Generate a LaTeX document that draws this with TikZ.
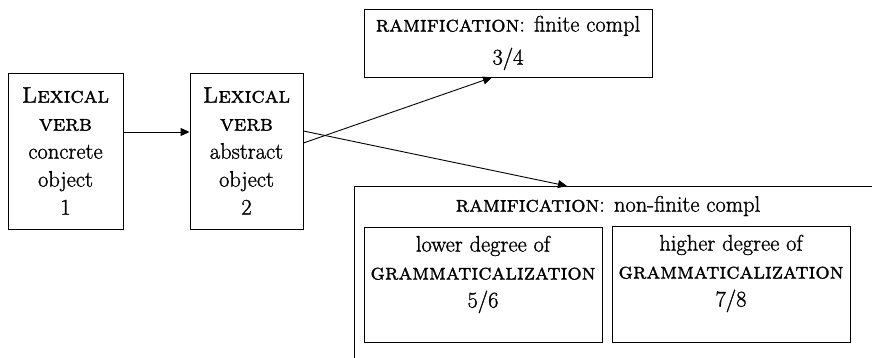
\documentclass[tikz,border=0pt]{standalone}
\usepackage{fontspec}
\setmainfont{Latin Modern Roman}[
  FakeBold=1.2,
  SmallCapsFont={Latin Modern Roman Caps},
  SmallCapsFeatures={FakeBold=1.2}]
\usetikzlibrary{arrows.meta}
\begin{document}
\begin{tikzpicture}[x=1pt,y=-1pt,
  txt/.style={inner sep=0pt, align=center, font=\fontsize{22.5}{28}\selectfont},
  box/.style={txt, draw, line width=0.9pt},
  arr/.style={-{Triangle[length=9pt,width=8pt]}, line width=0.9pt}]
\useasboundingbox (0,0) rectangle (872,358);
\clip (0,0) rectangle (872,358);

% the two lexical-verb stages
\node[box, minimum width=115pt, minimum height=156pt] (lexa) at (65.5,151)
  {\textsc{Lexical}\\\textsc{verb}\\concrete\\object\\1};
\node[box, minimum width=113pt, minimum height=156pt] (lexb) at (246.5,151)
  {\textsc{Lexical}\\\textsc{verb}\\abstract\\object\\2};

% finite complement branch
\node[box, minimum width=288pt, minimum height=68pt] (fin) at (508,43)
  {\textsc{ramification}: finite compl\\[5pt]3/4};

% non-finite complement branch (runs off the page edge)
\node[box, anchor=north west, minimum width=560pt, minimum height=220pt] (nonfin) at (354,186) {};
\node[txt] (nftitle) at (608,206) {\textsc{ramification}: non-finite compl};

\node[box, minimum width=238pt, minimum height=115pt] (low) at (483,284.5) {};
\node[txt, anchor=north] (lowtxt) at ([yshift=-9pt]low.north)
  {lower degree of\\\textsc{grammaticalization}\\5/6};
\node[box, minimum width=238pt, minimum height=116pt] (high) at (731,284) {};
\node[txt, anchor=north] (hightxt) at ([yshift=-9pt]high.north)
  {higher degree of\\\textsc{grammaticalization}\\7/8};

% connectors
\draw[arr] ([yshift=19pt]lexa.east) -- ([yshift=19pt]lexb.west);
\draw[arr] ([yshift=8pt]lexb.east) -- ([xshift=-16pt]fin.south);
\draw[arr] ([yshift=20pt]lexb.east) -- ([xshift=213pt]nonfin.north west);
\end{tikzpicture}
\end{document}
